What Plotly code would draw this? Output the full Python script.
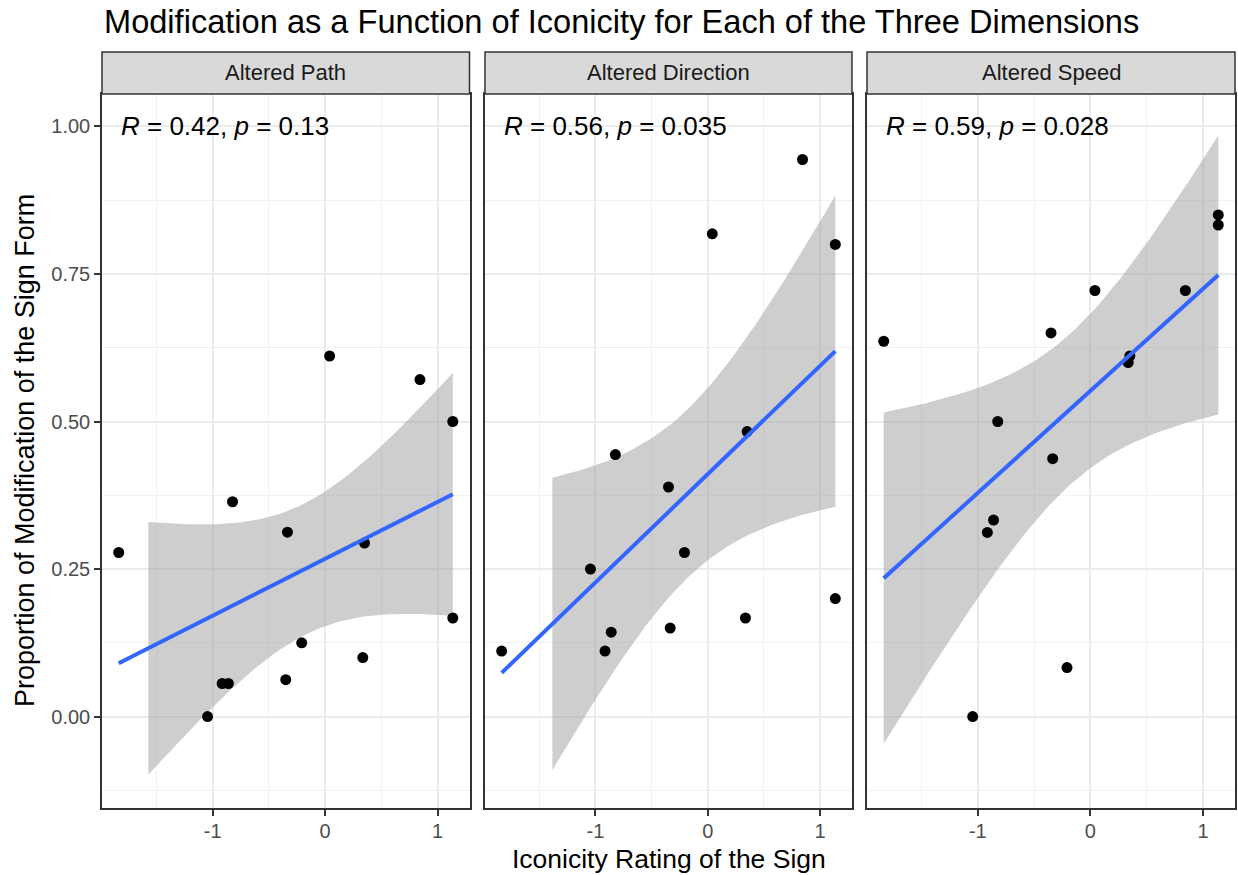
import numpy as np
import plotly.graph_objects as go

# Iconicity rating of each sign (shared by all three panels)
iconicity = [-1.835, -1.045, -0.915, -0.86, -0.823, -0.35, -0.335,
             -0.208, 0.04, 0.335, 0.35, 0.843, 1.135, 1.135]

# Proportion of modification of the sign form, per dimension
altered_path = [0.278, 0.0, 0.056, 0.056, 0.364, 0.0625, 0.3125,
                0.125, 0.611, 0.1, 0.294, 0.571, 0.5, 0.167]
altered_direction = [0.111, 0.25, 0.111, 0.143, 0.444, 0.389, 0.15,
                     0.278, 0.818, 0.167, 0.483, 0.944, 0.8, 0.2]
altered_speed = [0.636, 0.0, 0.312, 0.333, 0.5, 0.65, 0.437,
                 0.083, 0.722, 0.6, 0.611, 0.722, 0.85, 0.833]

panel_names = ["Altered Path", "Altered Direction", "Altered Speed"]
cor_labels = ["<i>R</i> = 0.42, <i>p</i> = 0.13",
              "<i>R</i> = 0.56, <i>p</i> = 0.035",
              "<i>R</i> = 0.59, <i>p</i> = 0.028"]
series = [altered_path, altered_direction, altered_speed]

Y_LIMITS = (-0.1, 1.0)
T_975_DF12 = 2.178813  # qt(0.975, df = n - 2) for n = 14

W, H = 1238, 875
panel_px = [(102, 469.5), (485, 852), (867, 1235)]
top_px, bottom_px, strip_top_px = 94, 808, 52
ydom = [1 - bottom_px / H, 1 - top_px / H]
FONT = "Liberation Sans, Arial"


def lm_band(x, y, n_grid=80):
    x = np.asarray(x, float)
    y = np.asarray(y, float)
    n = len(x)
    xm = x.mean()
    sxx = ((x - xm) ** 2).sum()
    b1 = ((x - xm) * (y - y.mean())).sum() / sxx
    b0 = y.mean() - b1 * xm
    resid = y - (b0 + b1 * x)
    s = np.sqrt((resid ** 2).sum() / (n - 2))
    xg = np.linspace(x.min(), x.max(), n_grid)
    fit = b0 + b1 * xg
    se = s * np.sqrt(1 / n + (xg - xm) ** 2 / sxx)
    return xg, fit, fit - T_975_DF12 * se, fit + T_975_DF12 * se


fig = go.Figure()

xs = np.asarray(iconicity)
xpad = 0.05 * (xs.max() - xs.min())
xrange = [xs.min() - xpad, xs.max() + xpad]
ypad = 0.05 * (Y_LIMITS[1] - Y_LIMITS[0])
yrange = [Y_LIMITS[0] - ypad, Y_LIMITS[1] + ypad]

for i, (name, ys, lab) in enumerate(zip(panel_names, series, cor_labels)):
    sfx = "" if i == 0 else str(i + 1)
    xa, ya = "x" + sfx, "y" + sfx

    xg, fit, lo, hi = lm_band(iconicity, ys)
    # rows outside the y limits are dropped, as the scale does
    keep = (lo >= Y_LIMITS[0]) & (hi <= Y_LIMITS[1])
    xk, lok, hik = xg[keep], lo[keep], hi[keep]
    fig.add_trace(go.Scatter(
        x=np.concatenate([xk, xk[::-1]]),
        y=np.concatenate([hik, lok[::-1]]),
        fill="toself", fillcolor="rgba(153,153,153,0.48)",
        line=dict(width=0), mode="lines", hoverinfo="skip",
        showlegend=False, xaxis=xa, yaxis=ya))
    fig.add_trace(go.Scatter(
        x=iconicity, y=ys, mode="markers",
        marker=dict(color="black", size=11, line=dict(width=0)),
        showlegend=False, xaxis=xa, yaxis=ya))
    lk = (fit >= Y_LIMITS[0]) & (fit <= Y_LIMITS[1])
    fig.add_trace(go.Scatter(
        x=xg[lk], y=fit[lk], mode="lines",
        line=dict(color="#3366FF", width=4),
        showlegend=False, xaxis=xa, yaxis=ya))

    x0, x1 = panel_px[i]
    dom = [x0 / W, x1 / W]
    axis_common = dict(
        showline=True, mirror=True, linecolor="#333333", linewidth=1.5,
        ticks="outside", ticklen=6, tickwidth=1.5, tickcolor="#333333",
        gridcolor="#EBEBEB", gridwidth=2.2, zeroline=False,
        tickfont=dict(family=FONT, size=20, color="#4D4D4D"),
    )
    fig.layout["xaxis" + sfx] = dict(
        domain=dom, range=xrange, anchor=ya,
        tickvals=[-1, 0, 1], ticktext=["-1", "0", "1"],
        ticklabelstandoff=-2,
        minor=dict(tickvals=[-1.5, -0.5, 0.5], showgrid=True,
                   gridcolor="#F2F2F2", gridwidth=1.2, ticks=""),
        **axis_common)
    fig.layout["yaxis" + sfx] = dict(
        domain=ydom, range=yrange, anchor=xa,
        tickvals=[0, 0.25, 0.5, 0.75, 1.0],
        ticktext=["0.00", "0.25", "0.50", "0.75", "1.00"] if i == 0 else [""] * 5,
        minor=dict(tickvals=[-0.125, 0.125, 0.375, 0.625, 0.875], showgrid=True,
                   gridcolor="#F2F2F2", gridwidth=1.2, ticks=""),
        **(axis_common if i == 0 else {**axis_common, "ticks": ""}))

    # facet strip
    fig.add_shape(type="rect", xref="paper", yref="paper",
                  x0=dom[0], x1=dom[1], y0=ydom[1], y1=1 - strip_top_px / H,
                  fillcolor="#D9D9D9", line=dict(color="#333333", width=1.5),
                  layer="above")
    fig.add_annotation(x=(dom[0] + dom[1]) / 2, y=1 - (strip_top_px + top_px) / 2 / H,
                       xref="paper", yref="paper", text=name, showarrow=False,
                       font=dict(family=FONT, size=22, color="#1A1A1A"),
                       xanchor="center", yanchor="middle")

    # correlation label
    fig.add_annotation(x=xs.min(), y=1.0, xref=xa, yref=ya, text=lab,
                       showarrow=False, xanchor="left", yanchor="middle",
                       font=dict(family=FONT, size=26, color="black"))

# axis titles
fig.add_annotation(x=(panel_px[0][0] + panel_px[2][1]) / 2 / W, y=1 - 859 / H,
                   xref="paper", yref="paper", text="Iconicity Rating of the Sign",
                   showarrow=False, xanchor="center", yanchor="middle",
                   font=dict(family=FONT, size=26.5, color="black"))
fig.add_annotation(x=25 / W, y=sum(ydom) / 2, xref="paper", yref="paper",
                   text="Proportion of Modification of the Sign Form", textangle=-90,
                   showarrow=False, xanchor="center", yanchor="middle",
                   font=dict(family=FONT, size=27, color="black"))

fig.update_layout(
    width=W, height=H,
    margin=dict(l=0, r=0, t=0, b=0),
    paper_bgcolor="white", plot_bgcolor="white",
    title=dict(text="Modification as a Function of Iconicity for Each of the Three Dimensions",
               x=104 / W, xanchor="left", xref="paper",
               y=1 - 22 / H, yanchor="middle",
               font=dict(family=FONT, size=32.6, color="black")),
    showlegend=False,
)

fig.write_html("out.html")
